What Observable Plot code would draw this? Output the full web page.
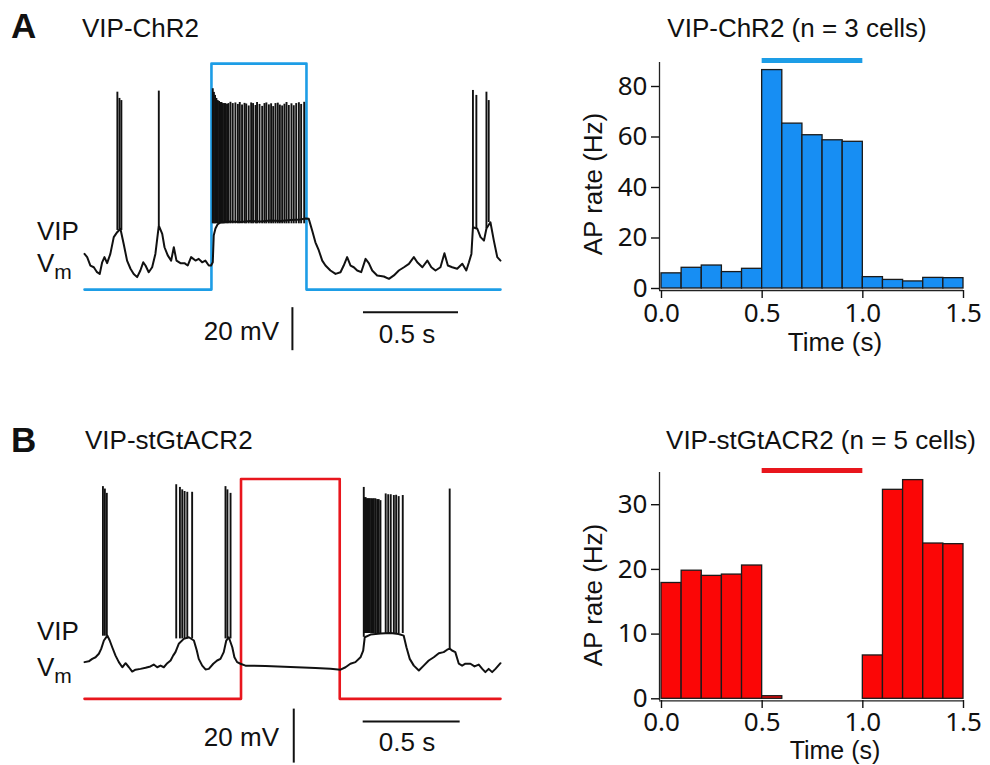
<!DOCTYPE html>
<html><head><meta charset="utf-8">
<script src="https://cdn.jsdelivr.net/npm/d3@7"></script>
<script src="https://cdn.jsdelivr.net/npm/@observablehq/plot@0.6"></script>
<style>
html,body{margin:0;padding:0;background:#fff;}
#fig{position:relative;width:990px;height:765px;overflow:hidden;font-family:"Liberation Sans",Arial,Helvetica,sans-serif;color:#111;background:#fff;}
#fig svg{position:absolute;left:0;top:0;background:transparent;overflow:visible;}
.lbl{position:absolute;white-space:nowrap;line-height:1;}
</style></head><body><div id="fig"></div>
<script>
// ---------------- DATA ----------------
// Panel A, VIP-ChR2 example trace: time (ms, light onset = 0) and Vm (mV)
const traceA_t = [-668,-654,-637,-619,-602,-588,-575,-563,-549,-532,-514,-496,-479,-462,-444,-426,-409,-391,-374,-359,-347,-330,-312,-295,-277,-259,-247,-230,-212,-198,-184,-163,-142,-125,-107,-84,-67,-49,-32,-14,-2,7,12,21,32,47,100,153,205,258,311,363,416,468,495,512,530,547,565,583,600,626,653,679,696,714,732,749,767,788,811,828,846,872,907,934,960,986,1013,1039,1065,1083,1110,1136,1157,1179,1205,1226,1244,1267,1293,1320,1341,1355,1368,1376,1399,1416,1434,1447,1468,1486,1504,1521];
const traceA_v = [-56,-57.5,-61.4,-62.2,-64.5,-65.3,-59.9,-57.5,-60.3,-56,-48.2,-45.9,-44.3,-51.3,-59.1,-62.9,-65.3,-66.8,-63.7,-59.9,-61.4,-64.5,-62.2,-56,-42.8,-46.7,-52.9,-56.7,-59.1,-52.9,-59.1,-60.3,-60.3,-61.4,-57.5,-59.1,-58.3,-59.9,-59.1,-61.4,-61.4,-59.9,-47.4,-44.2,-42.3,-41.4,-40.9,-41.2,-40.7,-40.9,-40.5,-40.7,-40.2,-40,-39.5,-39.7,-45.1,-50.6,-54.4,-59.1,-61.4,-63.7,-65.3,-64.5,-61.4,-57.5,-61.4,-62.2,-63.7,-64.5,-58.3,-60.3,-63.7,-66,-66.5,-67.6,-66,-63.7,-62.2,-60.6,-57.5,-59.9,-62.2,-59.1,-62.2,-63.7,-62.2,-55.7,-61.4,-62.2,-62.9,-60.6,-63.7,-59.9,-56,-43.6,-44.3,-48.2,-49.8,-44.2,-41.3,-49.8,-57.5,-59.1];
// Panel A action potentials: time (ms), peak (mV), foot (mV)
const spikeA_t = [-495,-484,-474,-277,
  7,13,19,26,33,40,46,53,60,67,74,82,89,
  100,112,126,139,149,161,174,183,196,209,219,232,240,253,267,279,289,302,314,325,337,349,360,372,384,395,407,421,433,446,460,472,488,
  1376,1394,1447,1459];
const spikeA_peak = [19.2,16.3,15.3,19.7,
  20.8,19.1,17.7,16.3,15.3,14.9,14.4,14.4,13.9,13.9,13.9,13.5,13.9,
  14.5,13.9,14.2,13.5,14.4,13.2,14,13.7,12.8,14.2,13.9,13,14.4,13.5,12.6,13.9,14.2,13.3,13.8,12.5,13.9,14.1,13.2,12.8,13.6,14.4,13,13.8,12.9,13.9,14.3,13.5,14.5,
  20,17.7,19.2,15.3];
const spikeA_base = [-45.1,-45.1,-45.1,-42.8,
  -42,-42,-42,-42,-42,-42,-42,-42,-42,-42,-42,-42,-42,
  -42,-42,-42,-42,-42,-42,-42,-42,-42,-42,-42,-42,-42,-42,-42,-42,-42,-42,-42,-42,-42,-42,-42,-42,-42,-42,-42,-42,-42,-42,-42,-42,-42,
  -43.7,-44.2,-44.2,-41.4];
// Panel A light pulse (drawn as a step)
const stimA_t = [-668,0,0,500,500,1521];
const stimA_level = [-72.6,-72.6,32.5,32.5,-72.6,-72.6];

// Panel B, VIP-stGtACR2 example trace
const traceB_t = [-807,-785,-767,-750,-733,-721,-707,-689,-677,-664,-647,-630,-612,-595,-578,-561,-544,-518,-492,-467,-450,-432,-415,-398,-380,-363,-350,-338,-321,-295,-269,-243,-228,-218,-200,-183,-166,-143,-123,-106,-89,-76,-63,-45,-34,-20,-3,23,126,255,384,461,513,539,564,590,616,630,638,668,719,771,812,839,853,870,891,917,942,968,994,1020,1045,1063,1076,1088,1105,1123,1140,1157,1183,1204,1226,1244,1260,1277,1295,1312,1338];
const traceB_v = [-60.6,-60.3,-59.4,-58.8,-57.5,-55.7,-52.6,-50.8,-52.6,-55.1,-58.2,-60.6,-62.5,-61,-62.5,-64.1,-63.4,-63.1,-62.7,-62.2,-61.5,-62.5,-61.9,-62.5,-61,-60,-58.2,-56.9,-53.8,-52,-51.4,-52.6,-56.3,-59.4,-61.9,-63.3,-63.1,-61.2,-60,-59.4,-56.9,-52.6,-51.4,-55.1,-58.8,-60.6,-61.2,-61.9,-62,-62.4,-62.8,-63.1,-63.4,-62.5,-61.2,-60.6,-58.8,-56.3,-51.4,-50.4,-50,-49.8,-50.2,-50.8,-55.1,-59.4,-61.9,-63.7,-61.9,-60,-58.8,-57.3,-56.9,-56,-55.6,-56.3,-56.9,-61.2,-61.9,-61.2,-61.2,-62.2,-61.5,-63.1,-64.3,-63.1,-64.3,-63.1,-61];
const spikeB_t = [-712,-702,-692,-334,-315,-303,-291,-277,-252,-80,-70,-54,
  633,638,643,649,654,659,664,671,678,685,693,702,710,719,746,759,772,788,800,813,834,1076];
const spikeB_peak = [4.4,3.5,1.9,5.1,4.1,3.2,2.6,2.3,2.3,4.4,3.2,1.9,
  4.1,0.3,0.3,-0.1,-0.1,-0.1,-0.1,-0.1,-0.1,-0.1,-0.1,-0.4,-0.4,-0.8,1.7,1.4,1.4,1.1,1.2,0.7,1.1,3.5];
const spikeB_base = [-51,-51,-51,-52,-52,-52,-52,-52,-52,-52,-52,-52,
  -51.4,-50,-50,-50,-50,-50,-50,-50,-50,-50,-50,-50,-50,-50,-50,-50,-50,-50,-50,-50,-50,-55.6];
const stimB_t = [-807,0,0,509,509,1338];
const stimB_level = [-74.2,-74.2,7.2,7.2,-74.2,-74.2];

// Scale bars
const scaleTime_ms = 500, scaleVm_mV = 20;

// PSTHs: bin start (s), AP rate (Hz)
const binStart = [0,0.1,0.2,0.3,0.4,0.5,0.6,0.7,0.8,0.9,1.0,1.1,1.2,1.3,1.4];
const binWidth = 0.1;
const rateA = [6.0,8.2,9.1,6.5,7.8,86.5,65.3,60.7,58.7,58.1,4.5,3.4,2.8,4.2,4.1];
const rateB = [17.9,19.8,19.0,19.2,20.6,0.4,0,0,0,0,6.7,32.3,33.8,24.0,23.9];
const lightWindow = [0.5, 1.0];
const ticksA = [0,20,40,60,80];
const ticksB = [0,10,20,30];
const ticksX = [0,0.5,1.0,1.5];

// Text
const titleA = "VIP-ChR2", titleB = "VIP-stGtACR2";
const histTitleA = "VIP-ChR2 (n = 3 cells)", histTitleB = "VIP-stGtACR2 (n = 5 cells)";

// ---------------- STYLE ----------------
const blueStim = "#1d9de6", redStim = "#e8161d", blueBar = "#178ef3", redBar = "#fb0606", ink = "#111";
const fig = document.getElementById("fig");
const W = 990, H = 765;

const zipTV = (t, v) => t.map((d, i) => ({t: d, v: v[i]}));
const zipSpk = (t, p, b) => t.map((d, i) => ({t: d, peak: p[i], base: b[i]}));

function tracePlot({trace, spikes, stim, stimColor, xd, xr, yd, yr, hbar, vbar}) {
  return Plot.plot({
    width: W, height: H, margin: 0,
    x: {domain: xd, range: xr, axis: null},
    y: {domain: yd, range: yr, axis: null},
    marks: [
      Plot.line(stim, {x: "t", y: "v", stroke: stimColor, strokeWidth: 2.6}),
      Plot.line(trace, {x: "t", y: "v", stroke: ink, strokeWidth: 2, strokeLinejoin: "round"}),
      Plot.ruleX(spikes, {x: "t", y1: "base", y2: "peak", stroke: ink, strokeWidth: 1.9}),
      Plot.ruleY([hbar.v], {x1: hbar.t, x2: hbar.t + scaleTime_ms, stroke: ink, strokeWidth: 2}),
      Plot.ruleX([vbar.t], {y1: vbar.v, y2: vbar.v + scaleVm_mV, stroke: ink, strokeWidth: 2})
    ]
  });
}

function histPlot({rates, fill, stimColor, yd, yr, ticks, stimY, mTop, axisBottom, xPad}) {
  const data = binStart.map((s, i) => ({start: s, end: s + binWidth, rate: rates[i]}));
  return Plot.plot({
    width: W, height: H,
    marginLeft: 659, marginRight: 27, marginTop: mTop, marginBottom: H - axisBottom,
    x: {domain: [0, 1.5], range: [661, 963]},
    y: {domain: yd, range: yr},
    marks: [
      Plot.rectY(data, {x1: "start", x2: "end", y: "rate", fill, stroke: "#1a1a1a", strokeWidth: 1.3}),
      Plot.ruleX([0], {dx: -2, stroke: "#222", strokeWidth: 1.3}),
      Plot.ruleY([0], {dy: 2, stroke: "#222", strokeWidth: 1.3}),
      Plot.ruleY([stimY], {x1: lightWindow[0], x2: lightWindow[1], stroke: stimColor, strokeWidth: 5}),
      Plot.axisY({ticks, tickSize: 8, tickPadding: 4, fontSize: 26, label: null, tickFormat: d => String(d), strokeWidth: 1.4}),
      Plot.axisX({ticks: ticksX, tickSize: 8, tickPadding: xPad, fontSize: 26, label: null, tickFormat: d => d.toFixed(1), strokeWidth: 1.4})
    ]
  });
}

fig.append(tracePlot({
  trace: zipTV(traceA_t, traceA_v), spikes: zipSpk(spikeA_t, spikeA_peak, spikeA_base),
  stim: zipTV(stimA_t, stimA_level), stimColor: blueStim,
  xd: [-668, 1521], xr: [84, 500], yd: [-105, 35], yr: [358.8, 57.7],
  hbar: {t: 800, v: -83.1}, vbar: {t: 426, v: -101}
}));
fig.append(tracePlot({
  trace: zipTV(traceB_t, traceB_v), spikes: zipSpk(spikeB_t, spikeB_peak, spikeB_base),
  stim: zipTV(stimB_t, stimB_level), stimColor: redStim,
  xd: [-807, 1338], xr: [84, 500], yd: [-100, 10], yr: [768, 471],
  hbar: {t: 630, v: -82.6}, vbar: {t: 272, v: -98}
}));
fig.append(histPlot({rates: rateA, fill: blueBar, stimColor: blueStim, yd: [0, 90], yr: [288, 60.75], ticks: ticksA, stimY: 90.3, mTop: 62, axisBottom: 290, xPad: 5}));
fig.append(histPlot({rates: rateB, fill: redBar, stimColor: redStim, yd: [0, 35], yr: [698.3, 471.85], ticks: ticksB, stimY: 35.3, mTop: 472, axisBottom: 700, xPad: 4}));

// ---------------- LABELS ----------------
function label(html, x, y, {anchor = "middle", size = 26, weight = "normal", rotate = 0, lh = 1} = {}) {
  const d = document.createElement("div");
  d.className = "lbl";
  d.innerHTML = html;
  d.style.left = x + "px"; d.style.top = y + "px";
  d.style.fontSize = size + "px"; d.style.fontWeight = weight; d.style.lineHeight = lh;
  const tx = anchor === "start" ? "0" : anchor === "end" ? "-100%" : "-50%";
  d.style.transform = `translate(${tx},-50%)` + (rotate ? ` rotate(${rotate}deg)` : "");
  fig.append(d);
}
const vm = 'V<span style="font-size:21px;position:relative;top:7px">m</span>';
label("A", 11, 25, {anchor: "start", size: 35, weight: "bold"});
label(titleA, 82, 28, {anchor: "start"});
label("VIP", 37, 231, {anchor: "start"});
label(vm, 37, 263, {anchor: "start"});
label("20 mV", 279, 331, {anchor: "end"});
label("0.5 s", 407, 334);
label(histTitleA, 797, 28);
label("Time (s)", 835, 343, {lh: 0.75});
label("AP rate (Hz)", 593, 184, {rotate: -90});

label("B", 11, 439, {anchor: "start", size: 35, weight: "bold"});
label(titleB, 85, 440, {anchor: "start"});
label("VIP", 37, 631, {anchor: "start"});
label(vm, 37, 667, {anchor: "start"});
label("20 mV", 279, 737, {anchor: "end"});
label("0.5 s", 407, 742);
label(histTitleB, 821, 440);
label("Time (s)", 835, 751, {lh: 0.7, size: 25});
label("AP rate (Hz)", 593, 595, {rotate: -90});
</script></body></html>
